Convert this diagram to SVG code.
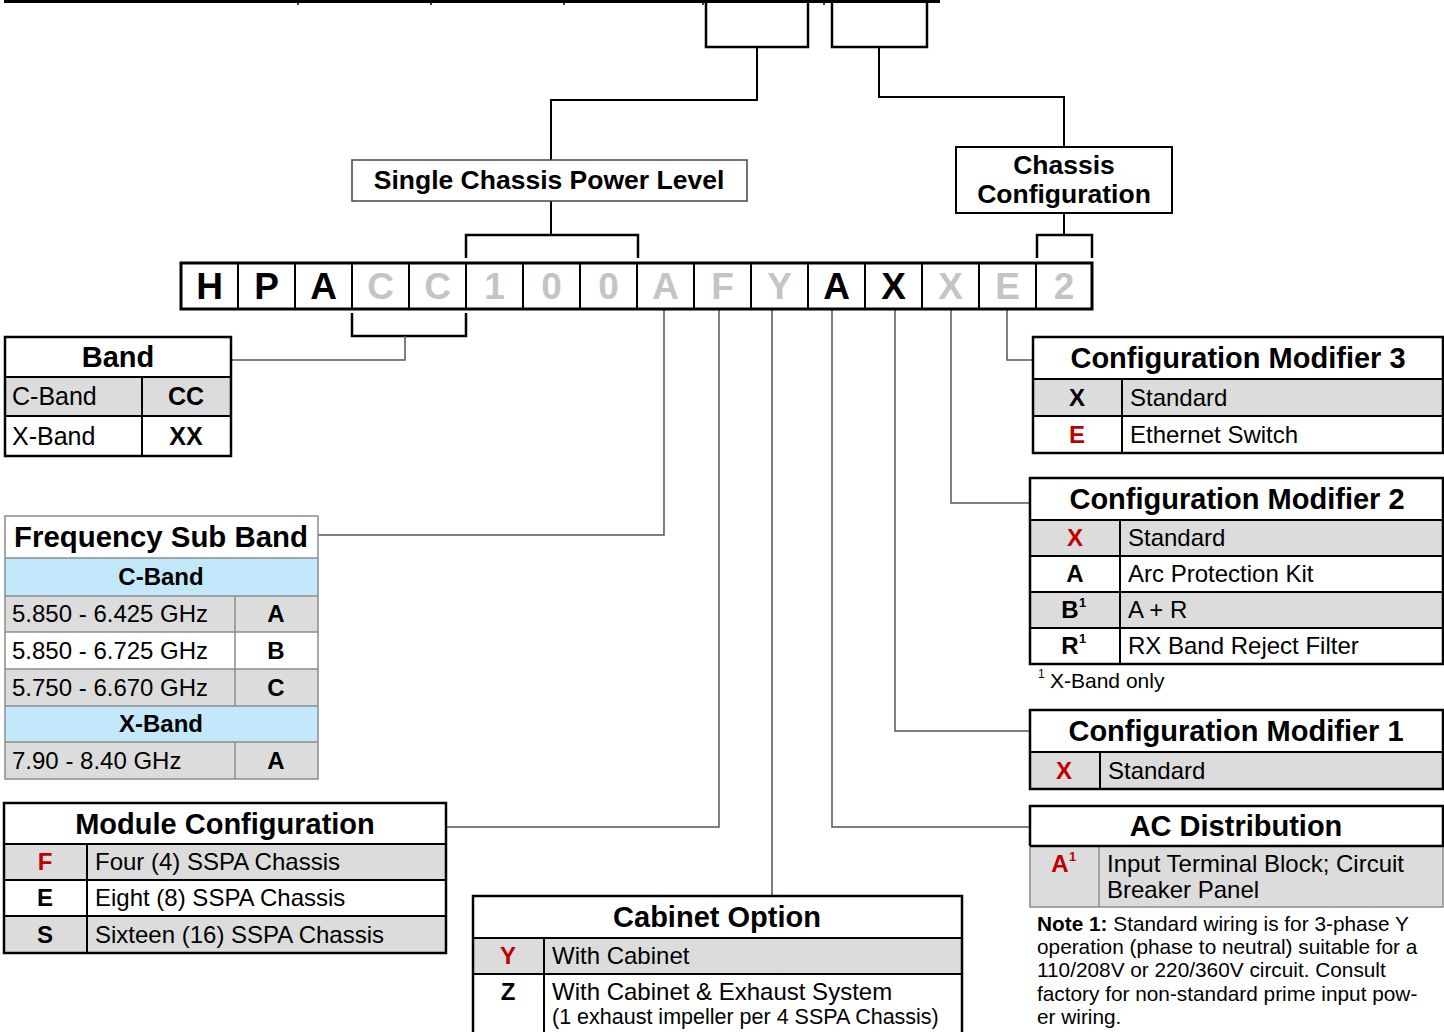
<svg xmlns="http://www.w3.org/2000/svg" width="1444" height="1032" viewBox="0 0 1444 1032">
<style>
text{font-family:"Liberation Sans",Arial,sans-serif;fill:#000}
.h{font-size:29px;font-weight:bold}
.h2{font-size:26.5px;font-weight:bold}
.t{font-size:24px}
.tb{font-size:24px;font-weight:bold}
.k{font-size:24px;font-weight:bold;text-anchor:middle}
.c{text-anchor:middle}
.red{fill:#c00000}
.sup{font-size:13px;font-weight:bold}
.code{font-family:"Liberation Sans Narrow","Liberation Sans",Arial,sans-serif;font-size:37px;font-weight:bold;text-anchor:middle}
.lg{fill:#c4c4c4}
.g{fill:#dcdcdc}
.b{fill:#c4e8fb}
.ob{fill:none;stroke:#000;stroke-width:2.5}
.il{stroke:#000;stroke-width:2}
.gl{stroke:#8c8c8c;stroke-width:1.5;fill:none}
.con{fill:none;stroke:#000;stroke-width:2}
.br{fill:none;stroke:#000;stroke-width:2.5}
.lead{fill:none;stroke:#555;stroke-width:1.5}
.n{font-size:20.8px}
</style>

<g id="top-row">
<line x1="4" y1="1.5" x2="940" y2="1.5" stroke="#000" stroke-width="3"/>
<path d="M298,0V5M431,0V5M564,0V5M703,0V5M824,0V5" stroke="#000" stroke-width="1.5"/>
<path d="M706,0V47H808V0" class="br"/>
<path d="M832,0V47H927V0" class="br"/>
</g>

<g id="connectors">
<path d="M757,47V100H551V160" class="con"/>
<path d="M879,47V97H1064V147" class="con"/>
<path d="M551,201V235" class="con"/>
<path d="M466,258V235H638V258" class="br"/>
<path d="M1064,213V235" class="con"/>
<path d="M1037,258V235H1092V258" class="br"/>
<path d="M352,313V336H466V313" class="br"/>
<path d="M405,336V360H231" class="lead"/>
<path d="M664,309V535H318" class="lead"/>
<path d="M719,309V827H446" class="lead"/>
<path d="M772,309V896" class="lead"/>
<path d="M832,309V827H1030" class="lead"/>
<path d="M895,309V731H1030" class="lead"/>
<path d="M951,309V503H1030" class="lead"/>
<path d="M1007,309V360H1033" class="lead"/>
</g>

<g id="power-level">
<rect x="352" y="160" width="395" height="41" fill="#fff" stroke="#444" stroke-width="1.5"/>
<text x="549" y="189" class="h2 c">Single Chassis Power Level</text>
</g>

<g id="chassis-config">
<rect x="956" y="147" width="216" height="66" fill="#fff" stroke="#000" stroke-width="2"/>
<text x="1064" y="174" class="h2 c">Chassis</text>
<text x="1064" y="203" class="h2 c">Configuration</text>
</g>

<g id="code">
<rect x="181" y="263" width="911" height="46" fill="#fff" stroke="#000" stroke-width="3"/>
<path d="M238,263V309M295,263V309M352,263V309M409,263V309M466,263V309M523,263V309M580,263V309M637,263V309M694,263V309M751,263V309M808,263V309M865,263V309M922,263V309M979,263V309M1036,263V309" class="il"/>
<text x="209.5" y="299" class="code">H</text>
<text x="266.5" y="299" class="code">P</text>
<text x="323.5" y="299" class="code">A</text>
<text x="380.5" y="299" class="code lg">C</text>
<text x="437.5" y="299" class="code lg">C</text>
<text x="494.5" y="299" class="code lg">1</text>
<text x="551.5" y="299" class="code lg">0</text>
<text x="608.5" y="299" class="code lg">0</text>
<text x="665.5" y="299" class="code lg">A</text>
<text x="722.5" y="299" class="code lg">F</text>
<text x="779.5" y="299" class="code lg">Y</text>
<text x="836.5" y="299" class="code">A</text>
<text x="893.5" y="299" class="code">X</text>
<text x="950.5" y="299" class="code lg">X</text>
<text x="1007.5" y="299" class="code lg">E</text>
<text x="1064" y="299" class="code lg">2</text>
</g>

<g id="band">
<rect x="5" y="377" width="226" height="39" class="g"/>
<rect x="5" y="337" width="226" height="119" class="ob"/>
<path d="M5,377H231M5,416H231M142,377V456" class="il"/>
<text x="118" y="367" class="h c">Band</text>
<text x="12" y="405" style="font-size:25px">C-Band</text>
<text x="186" y="405" class="c" style="font-size:25px;font-weight:bold">CC</text>
<text x="12" y="445" style="font-size:25px">X-Band</text>
<text x="186" y="445" class="c" style="font-size:25px;font-weight:bold">XX</text>
</g>

<g id="freq-sub-band">
<rect x="5" y="516" width="313" height="263" fill="#fff"/>
<rect x="5" y="558" width="313" height="38" class="b"/>
<rect x="5" y="596" width="313" height="36" class="g"/>
<rect x="5" y="669" width="313" height="37" class="g"/>
<rect x="5" y="706" width="313" height="36" class="b"/>
<rect x="5" y="742" width="313" height="37" class="g"/>
<path d="M5,558H318M5,596H318M5,632H318M5,669H318M5,706H318M5,742H318M235,596V706M235,742V779" class="gl"/>
<rect x="5" y="516" width="313" height="263" class="gl"/>
<text x="14" y="547" class="h" style="font-size:29.4px">Frequency Sub Band</text>
<text x="161" y="585" class="tb c">C-Band</text>
<text x="12" y="622" class="t">5.850 - 6.425 GHz</text>
<text x="276" y="622" class="k">A</text>
<text x="12" y="659" class="t">5.850 - 6.725 GHz</text>
<text x="276" y="659" class="k">B</text>
<text x="12" y="696" class="t">5.750 - 6.670 GHz</text>
<text x="276" y="696" class="k">C</text>
<text x="161" y="732" class="tb c">X-Band</text>
<text x="12" y="769" class="t">7.90 - 8.40 GHz</text>
<text x="276" y="769" class="k">A</text>
</g>

<g id="module-config">
<rect x="4" y="844" width="442" height="36" class="g"/>
<rect x="4" y="916" width="442" height="37" class="g"/>
<rect x="4" y="803" width="442" height="150" class="ob"/>
<path d="M4,844H446M4,880H446M4,916H446M87,844V953" class="il"/>
<text x="225" y="834" class="h c">Module Configuration</text>
<text x="45" y="870" class="k red">F</text>
<text x="95" y="870" class="t">Four (4) SSPA Chassis</text>
<text x="45" y="906" class="k">E</text>
<text x="95" y="906" class="t">Eight (8) SSPA Chassis</text>
<text x="45" y="943" class="k">S</text>
<text x="95" y="943" class="t">Sixteen (16) SSPA Chassis</text>
</g>

<g id="cabinet-option">
<rect x="473" y="938" width="489" height="36" class="g"/>
<rect x="473" y="896" width="489" height="145" class="ob"/>
<path d="M473,938H962M473,974H962M544,938V1032" class="il"/>
<text x="717" y="927" class="h c">Cabinet Option</text>
<text x="508" y="964" class="k red">Y</text>
<text x="552" y="964" class="t">With Cabinet</text>
<text x="508" y="1000" class="k">Z</text>
<text x="552" y="1000" class="t">With Cabinet &amp; Exhaust System</text>
<text x="552" y="1024" style="font-size:21.5px">(1 exhaust impeller per 4 SSPA Chassis)</text>
</g>

<g id="config-mod-3">
<rect x="1033" y="379" width="410" height="37" class="g"/>
<rect x="1033" y="337" width="410" height="116" class="ob"/>
<path d="M1033,379H1443M1033,416H1443M1122,379V453" class="il"/>
<text x="1238" y="368" class="h c">Configuration Modifier 3</text>
<text x="1077" y="406" class="k">X</text>
<text x="1130" y="406" class="t">Standard</text>
<text x="1077" y="443" class="k red">E</text>
<text x="1130" y="443" class="t">Ethernet Switch</text>
</g>

<g id="config-mod-2">
<rect x="1030" y="520" width="413" height="36" class="g"/>
<rect x="1030" y="592" width="413" height="36" class="g"/>
<rect x="1030" y="478" width="413" height="186" class="ob"/>
<path d="M1030,520H1443M1030,556H1443M1030,592H1443M1030,628H1443M1120,520V664" class="il"/>
<text x="1237" y="509" class="h c">Configuration Modifier 2</text>
<text x="1075" y="546" class="k red">X</text>
<text x="1128" y="546" class="t">Standard</text>
<text x="1075" y="582" class="k">A</text>
<text x="1128" y="582" class="t">Arc Protection Kit</text>
<text x="1070" y="618" class="k">B</text>
<text x="1079" y="607" class="sup">1</text>
<text x="1128" y="618" class="t">A + R</text>
<text x="1070" y="654" class="k">R</text>
<text x="1079" y="643" class="sup">1</text>
<text x="1128" y="654" class="t">RX Band Reject Filter</text>
<text x="1038" y="678" style="font-size:12px">1</text>
<text x="1050" y="688" style="font-size:21px">X-Band only</text>
</g>

<g id="config-mod-1">
<rect x="1030" y="752" width="413" height="37" class="g"/>
<rect x="1030" y="710" width="413" height="79" class="ob"/>
<path d="M1030,752H1443M1100,752V789" class="il"/>
<text x="1236" y="741" class="h c">Configuration Modifier 1</text>
<text x="1064" y="779" class="k red">X</text>
<text x="1108" y="779" class="t">Standard</text>
</g>

<g id="ac-distribution">
<rect x="1030" y="846" width="413" height="61" class="g"/>
<rect x="1030" y="846" width="413" height="61" class="gl"/>
<path d="M1099,846V907" class="gl"/>
<path d="M1030,846V806H1443V846H1030" class="ob"/>
<text x="1236" y="836" class="h c">AC Distribution</text>
<text x="1060" y="872" class="k red">A</text>
<text x="1069" y="861" class="sup red">1</text>
<text x="1107" y="872" class="t">Input Terminal Block; Circuit</text>
<text x="1107" y="898" class="t">Breaker Panel</text>
</g>

<g id="note">
<text x="1037" y="931" class="n"><tspan font-weight="bold">Note 1:</tspan> Standard wiring is for 3-phase Y</text>
<text x="1037" y="954" class="n">operation (phase to neutral) suitable for a</text>
<text x="1037" y="977" class="n">110/208V or 220/360V circuit. Consult</text>
<text x="1037" y="1001" class="n">factory for non-standard prime input pow-</text>
<text x="1037" y="1024" class="n">er wiring.</text>
</g>
</svg>
